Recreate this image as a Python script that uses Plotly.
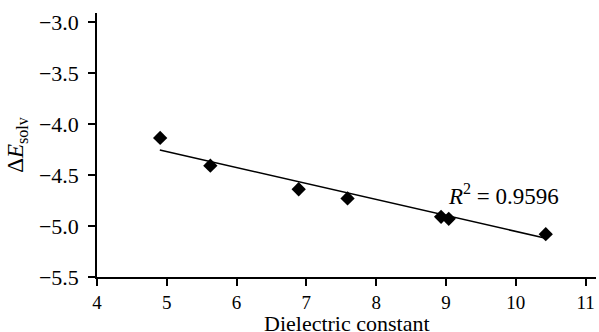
import plotly.graph_objects as go

dielectric = [4.905, 5.624, 6.89, 7.59, 8.93, 9.04, 10.43]
delta_e = [-4.137, -4.409, -4.64, -4.73, -4.91, -4.93, -5.08]
trend_x = [4.9, 10.43]
trend_y = [-4.255, -5.12]
x_ticks = [4, 5, 6, 7, 8, 9, 10, 11]
y_ticks = [-3.0, -3.5, -4.0, -4.5, -5.0, -5.5]

FONT = "Liberation Serif"
W, H = 599, 332
MARGIN = dict(l=97, r=3, t=13, b=55)
plot_h = H - MARGIN["t"] - MARGIN["b"]

fig = go.Figure()
fig.add_trace(go.Scatter(x=trend_x, y=trend_y, mode="lines",
                         line=dict(color="black", width=1.5), showlegend=False))
fig.add_trace(go.Scatter(x=dielectric, y=delta_e, mode="markers",
                         marker=dict(symbol="diamond", size=11, color="black"),
                         showlegend=False))

fig.add_annotation(x=9.83, y=-4.69, xref="x", yref="y",
                   text="<i>R</i><sup>2</sup> = 0.9596", showarrow=False,
                   font=dict(family=FONT, size=23, color="black"))

# x-axis title placed at the bottom of the figure
fig.add_annotation(x=0.5, y=-MARGIN["b"] / plot_h, xref="paper", yref="paper",
                   xanchor="center", yanchor="bottom", yshift=-6,
                   text="Dielectric constant", showarrow=False,
                   font=dict(family=FONT, size=22, color="black"))

fig.update_xaxes(range=[4, 11.15], tickvals=x_ticks, ticktext=[str(v) for v in x_ticks],
                 showline=True, linecolor="black", linewidth=1.5,
                 ticks="outside", ticklen=7, tickwidth=1.5, tickcolor="black",
                 showgrid=False, zeroline=False, ticklabelstandoff=0, automargin=False,
                 tickfont=dict(family=FONT, size=19, color="black"))
fig.update_yaxes(range=[-5.5, -2.912], tickvals=y_ticks,
                 ticktext=["\u2212%.1f" % abs(v) for v in y_ticks],
                 showline=True, linecolor="black", linewidth=1.5,
                 ticks="outside", ticklen=7, tickwidth=1.5, tickcolor="black",
                 showgrid=False, zeroline=False, ticklabelstandoff=5, automargin=False,
                 tickfont=dict(family=FONT, size=22, color="black"),
                 title=dict(text="\u0394<i>E</i><sub>solv</sub>", standoff=9,
                            font=dict(family=FONT, size=23, color="black")))

fig.update_layout(width=W, height=H, margin=MARGIN,
                  plot_bgcolor="white", paper_bgcolor="white")

fig.write_html("out.html")
